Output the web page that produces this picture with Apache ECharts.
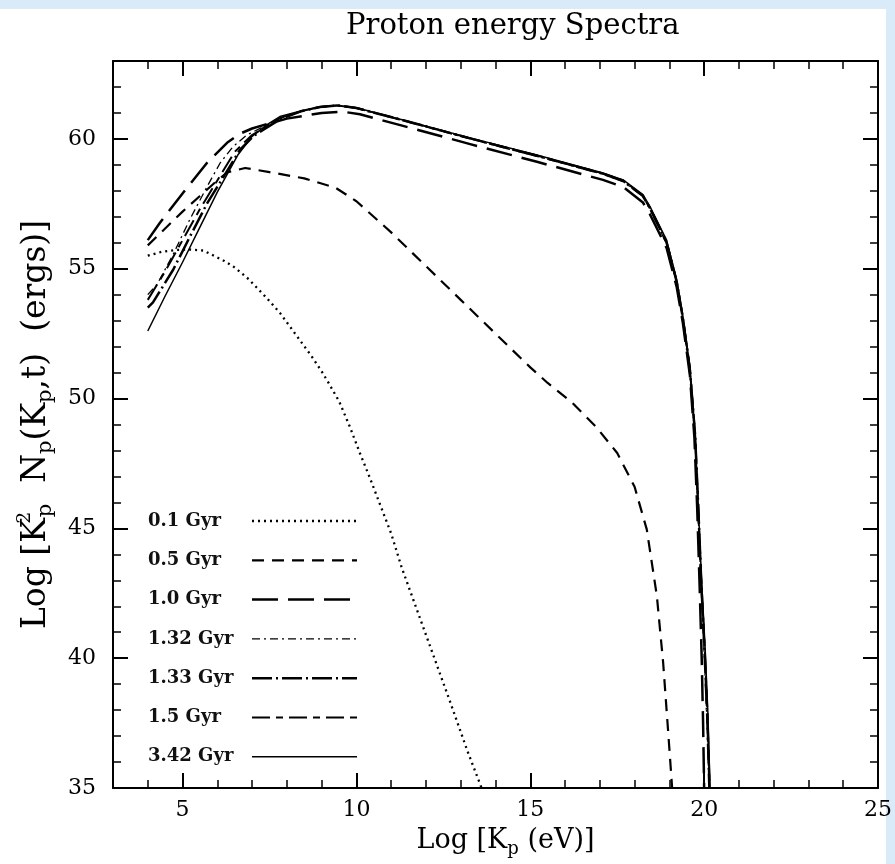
<!DOCTYPE html>
<html><head><meta charset="utf-8">
<script src="https://cdn.jsdelivr.net/npm/echarts@6/dist/echarts.min.js"></script>
<style>html,body{margin:0;padding:0;background:#fff}#c{width:895px;height:864px}</style>
</head><body><div id="c"></div><script>
const seriesNames = ['0.1 Gyr', '0.5 Gyr', '1.0 Gyr', '1.32 Gyr', '1.33 Gyr', '1.5 Gyr', '3.42 Gyr'];

const gyr0_1 = [[4.0,55.5],[4.4,55.65],[4.8,55.72],[5.2,55.74],[5.6,55.7],[5.9,55.5],[6.2,55.3],[6.5,55.05],[6.9,54.6],[7.4,53.9],[7.8,53.3],[8.1,52.75],[8.4,52.2],[8.7,51.65],[9.0,51.05],[9.2,50.6],[9.5,49.9],[9.8,48.95],[10.1,47.9],[10.4,46.9],[10.7,45.85],[11.0,44.8],[11.3,43.5],[12.0,40.9],[12.7,38.3],[13.2,36.4],[13.6,35.0]];
const gyr0_5 = [[4.0,55.9],[4.5,56.55],[5.0,57.2],[5.5,57.8],[6.0,58.4],[6.3,58.72],[6.8,58.88],[7.5,58.72],[8.5,58.48],[9.4,58.12],[10.0,57.6],[11.0,56.4],[12.0,55.1],[13.0,53.8],[14.0,52.5],[15.0,51.2],[15.5,50.6],[16.2,49.85],[16.9,48.9],[17.5,47.9],[18.0,46.6],[18.35,44.96],[18.64,42.4],[18.82,39.85],[18.96,37.27],[19.08,35.0]];
const gyr1_0 = [[4.0,56.1],[4.35,56.77],[5.0,57.9],[5.7,59.07],[6.28,59.85],[6.65,60.2],[7.0,60.4],[7.5,60.6],[8.0,60.78],[9.0,61.0],[9.6,61.05],[10.1,60.95],[11.34,60.5],[13.27,59.8],[15.19,59.12],[17.09,58.42],[17.67,58.15],[18.24,57.55],[18.44,57.1],[18.92,55.8],[19.21,54.3],[19.39,52.9],[19.59,50.9],[19.72,48.5],[19.8,45.8],[19.87,42.8],[19.93,40.0],[19.97,37.5],[20.0,35.0]];
const gyr1_32 = [[4.0,54.0],[4.27,54.4],[4.73,55.55],[5.21,56.9],[5.7,58.15],[6.08,59.07],[6.45,59.7],[6.85,60.15],[7.3,60.45],[7.8,60.8],[8.4,61.05],[8.95,61.22],[9.44,61.28],[10.0,61.18],[11.34,60.7],[13.27,60.0],[15.19,59.33],[17.09,58.64],[17.67,58.36],[18.24,57.78],[18.44,57.3],[18.92,55.95],[19.21,54.45],[19.39,53.0],[19.59,51.0],[19.73,48.6],[19.82,45.8],[19.91,42.8],[20.0,40.2],[20.08,37.6],[20.14,35.0]];
const gyr1_33 = [[4.0,53.5],[4.15,53.7],[4.73,54.96],[5.21,56.23],[5.7,57.5],[6.16,58.5],[6.65,59.58],[7.03,60.1],[7.5,60.5],[7.8,60.75],[8.4,61.06],[8.95,61.23],[9.44,61.29],[10.0,61.19],[11.34,60.72],[13.27,60.02],[15.19,59.35],[17.09,58.66],[17.67,58.38],[18.24,57.8],[18.44,57.33],[18.92,56.0],[19.21,54.5],[19.39,53.08],[19.59,51.1],[19.74,48.6],[19.83,45.85],[19.92,42.85],[20.01,40.3],[20.09,37.7],[20.15,35.0]];
const gyr1_5 = [[4.0,53.8],[4.5,54.9],[5.0,56.1],[5.5,57.3],[6.0,58.4],[6.5,59.5],[7.0,60.15],[7.5,60.55],[7.8,60.8],[8.4,61.06],[8.95,61.23],[9.44,61.29],[10.0,61.19],[11.34,60.72],[13.27,60.02],[15.19,59.36],[17.09,58.67],[17.67,58.4],[18.24,57.82],[18.44,57.36],[18.92,56.05],[19.21,54.53],[19.39,53.12],[19.59,51.17],[19.74,48.65],[19.83,45.88],[19.92,42.88],[20.02,40.33],[20.1,37.75],[20.16,35.0]];
const gyr3_42 = [[4.0,52.6],[4.5,53.95],[5.0,55.25],[5.5,56.6],[6.0,57.95],[6.6,59.4],[7.0,60.1],[7.43,60.55],[7.8,60.86],[8.4,61.08],[8.95,61.24],[9.44,61.3],[10.0,61.2],[11.34,60.73],[13.27,60.04],[15.19,59.38],[17.09,58.69],[17.67,58.42],[18.24,57.85],[18.44,57.4],[18.92,56.1],[19.21,54.58],[19.39,53.17],[19.59,51.24],[19.74,48.7],[19.83,45.9],[19.93,42.9],[20.03,40.35],[20.11,37.8],[20.17,35.0]];

const xMajorTicks = [5, 10, 15, 20, 25];
const yMajorTicks = [35, 40, 45, 50, 55, 60];

const dataSets = [gyr0_1, gyr0_5, gyr1_0, gyr1_32, gyr1_33, gyr1_5, gyr3_42];
const lineStyles = [
  {width: 2.3, type: [2, 4]},
  {width: 2.2, type: [12, 8]},
  {width: 2.5, type: [26, 10]},
  {width: 1.3, type: [8, 4, 2, 4]},
  {width: 2.5, type: [20, 4, 2, 4]},
  {width: 2, type: [18, 6, 7, 6]},
  {width: 1.5, type: 'solid'}
];

const serif = 'DejaVu Serif';
const black = '#000';

function axisBase(extra) {
  return Object.assign({
    type: 'value', min: 3, max: 25,
    axisLine: {show: true, onZero: false, lineStyle: {color: black, width: 2}},
    splitLine: {show: false},
    axisLabel: {show: false}
  }, extra);
}

const chart = echarts.init(document.getElementById('c'), null, {renderer: 'canvas'});
const option = {
  animation: false,
  backgroundColor: '#fff',
  graphic: [
    {type: 'rect', shape: {x: 0, y: 0, width: 895, height: 9}, style: {fill: '#d9ebf8'}, silent: true},
    {type: 'rect', shape: {x: 886, y: 0, width: 9, height: 864}, style: {fill: '#d9ebf8'}, silent: true}
  ],
  title: {
    text: 'Proton energy Spectra', left: 341, top: 7,
    textStyle: {fontFamily: serif, fontSize: 29, fontWeight: 'normal', color: black}
  },
  grid: {left: 113, right: 17, top: 61, bottom: 76},
  legend: {
    orient: 'vertical', left: 148, top: 512, align: 'right', padding: 0,
    itemWidth: 105, itemHeight: 14, itemGap: 21.3, selectedMode: false,
    formatter: function (n) { return '{t|' + n + '}'; },
    textStyle: {rich: {t: {width: 99, align: 'left', lineHeight: 18, fontFamily: serif, fontWeight: 'bold', fontSize: 18, color: '#111'}}},
    data: seriesNames.map(function (n, i) {
      return {name: n, lineStyle: {color: black, width: lineStyles[i].width, type: lineStyles[i].type}, itemStyle: {opacity: 0}};
    })
  },
  xAxis: [
    axisBase({position: 'bottom',
      axisTick: {show: true, inside: true, length: 15, customValues: xMajorTicks, lineStyle: {color: black, width: 2}},
      axisLabel: {show: true, customValues: xMajorTicks, margin: 11, fontFamily: serif, fontSize: 22, color: black},
      name: '{m|Log [K}{s|p}{m| (eV)]}', nameLocation: 'middle', nameGap: 36,
      nameTextStyle: {padding: [0, 0, 0, 20], rich: {
        m: {fontFamily: serif, fontSize: 27, lineHeight: 34, color: black},
        s: {fontFamily: serif, fontSize: 18, lineHeight: 16, verticalAlign: 'bottom', color: black}
      }}
    }),
    axisBase({position: 'bottom', interval: 1, axisLine: {show: false},
      axisTick: {show: true, inside: true, length: 8, lineStyle: {color: black, width: 1.5}}}),
    axisBase({position: 'top',
      axisTick: {show: true, inside: true, length: 15, customValues: xMajorTicks, lineStyle: {color: black, width: 2}}}),
    axisBase({position: 'top', interval: 1, axisLine: {show: false},
      axisTick: {show: true, inside: true, length: 8, lineStyle: {color: black, width: 1.5}}})
  ],
  yAxis: [
    axisBase({min: 35, max: 63, position: 'left',
      axisTick: {show: true, inside: true, length: 15, customValues: yMajorTicks, lineStyle: {color: black, width: 2}},
      axisLabel: {show: true, customValues: yMajorTicks, margin: 17, fontFamily: serif, fontSize: 22, color: black},
      name: '{m|Log [K}{u|2}{s|p}{m|  N}{s|p}{m|(K}{s|p}{m|,t)  (ergs)]}', nameLocation: 'middle', nameGap: 57, nameRotate: 90,
      nameTextStyle: {rich: {
        m: {fontFamily: serif, fontSize: 33, lineHeight: 40, color: black},
        s: {fontFamily: serif, fontSize: 21, lineHeight: 19, verticalAlign: 'bottom', color: black},
        u: {fontFamily: serif, fontSize: 19, lineHeight: 15, width: 1, verticalAlign: 'top', color: black}
      }}
    }),
    axisBase({min: 35, max: 63, position: 'left', interval: 1, axisLine: {show: false},
      axisTick: {show: true, inside: true, length: 8, lineStyle: {color: black, width: 1.5}}}),
    axisBase({min: 35, max: 63, position: 'right',
      axisTick: {show: true, inside: true, length: 15, customValues: yMajorTicks, lineStyle: {color: black, width: 2}}}),
    axisBase({min: 35, max: 63, position: 'right', interval: 1, axisLine: {show: false},
      axisTick: {show: true, inside: true, length: 8, lineStyle: {color: black, width: 1.5}}})
  ],
  series: seriesNames.map(function (n, i) {
    return {
      type: 'line', name: n, data: dataSets[i], xAxisIndex: 0, yAxisIndex: 0,
      symbol: 'none', clip: true, silent: true,
      lineStyle: {color: black, width: lineStyles[i].width, type: lineStyles[i].type, cap: 'butt', join: 'round'}
    };
  })
};
chart.setOption(option);
</script></body></html>
